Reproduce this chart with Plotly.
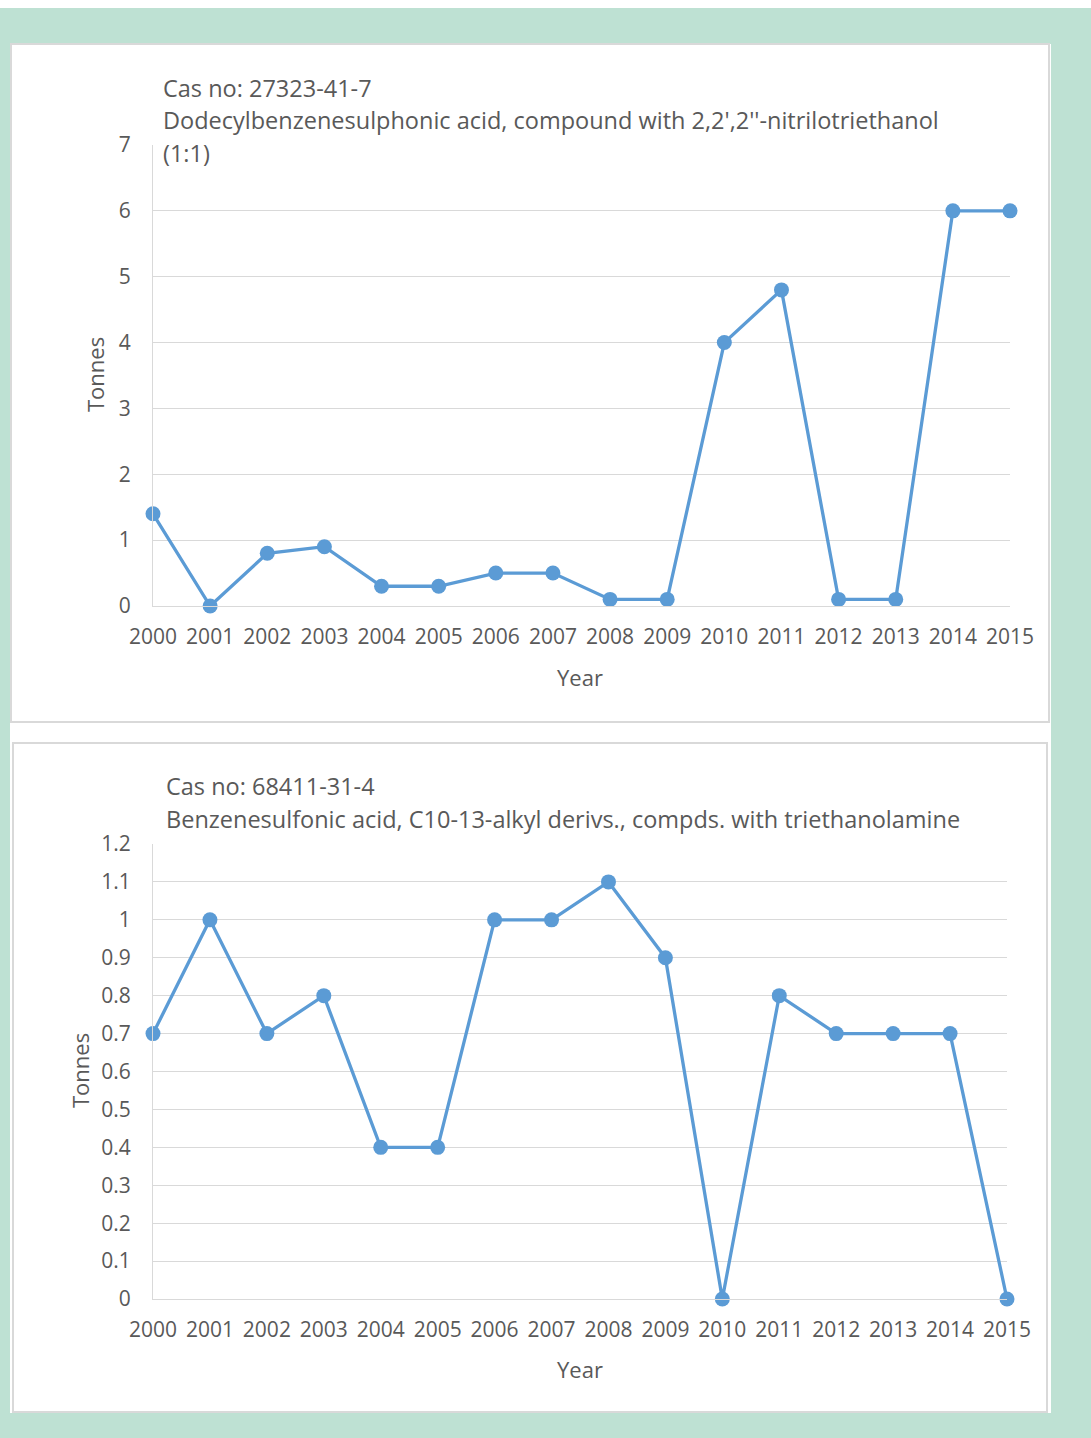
import plotly.graph_objects as go

W, H = 1091, 1438

years = list(range(2000, 2016))
tonnes_27323 = [1.4, 0.0, 0.8, 0.9, 0.3, 0.3, 0.5, 0.5, 0.1, 0.1, 4.0, 4.8, 0.1, 0.1, 6.0, 6.0]
tonnes_68411 = [0.7, 1.0, 0.7, 0.8, 0.4, 0.4, 1.0, 1.0, 1.1, 0.9, 0.0, 0.8, 0.7, 0.7, 0.7, 0.0]

title_1 = ["Cas no: 27323-41-7",
           "Dodecylbenzenesulphonic acid, compound with 2,2',2''-nitrilotriethanol",
           "(1:1)"]
title_2 = ["Cas no: 68411-31-4",
           "Benzenesulfonic acid, C10-13-alkyl derivs., compds. with triethanolamine"]

LINE = "#5b9bd5"
TEXT = "#595959"
GRID = "#d9d9d9"
TEAL = "#bee1d3"
FONT = "Open Sans"


def px_x(x):
    return x / W


def px_y(y):
    return 1 - y / H


fig = go.Figure()

for ys, xa, ya in [(tonnes_27323, "x", "y"), (tonnes_68411, "x2", "y2")]:
    fig.add_trace(go.Scatter(x=years, y=ys, mode="lines+markers",
                             line=dict(color=LINE, width=3.3),
                             marker=dict(color=LINE, size=15),
                             cliponaxis=False, xaxis=xa, yaxis=ya))

tick_font = dict(family=FONT, size=21, color=TEXT)
base = dict(showline=True, linecolor=GRID, linewidth=1, zeroline=False,
            fixedrange=True, automargin=False, tickfont=tick_font,
            ticks="outside", tickcolor="rgba(0,0,0,0)")
x_axis = dict(base, showgrid=False, range=[2000, 2015], tickmode="array",
              tickvals=years, ticktext=[str(y) for y in years], ticklen=12)
y_axis = dict(base, showgrid=True, gridcolor=GRID, gridwidth=1, ticklen=17)

fig.update_layout(
    width=W, height=H,
    margin=dict(l=0, r=0, t=0, b=0, pad=0, autoexpand=False),
    paper_bgcolor=TEAL, plot_bgcolor="rgba(0,0,0,0)",
    showlegend=False,
    font=dict(family=FONT, color=TEXT),
    xaxis=dict(x_axis, domain=[px_x(153), px_x(1010)], anchor="y"),
    yaxis=dict(y_axis, domain=[px_y(606), px_y(145)], range=[0, 7], dtick=1, anchor="x"),
    xaxis2=dict(x_axis, domain=[px_x(153), px_x(1007)], anchor="y2"),
    yaxis2=dict(y_axis, domain=[px_y(1299), px_y(844)], range=[0, 1.2], dtick=0.1, anchor="x2"),
)

shapes = [
    # white strip along the top edge
    dict(type="rect", xref="paper", yref="paper", x0=0, x1=1, y0=px_y(8), y1=1,
         fillcolor="white", line=dict(width=0), layer="below"),
    # white sheet behind both panels
    dict(type="rect", xref="paper", yref="paper", x0=px_x(10), x1=px_x(1051),
         y0=px_y(1413), y1=px_y(44), fillcolor="white", line=dict(width=0), layer="below"),
    # panel frames
    dict(type="rect", xref="paper", yref="paper", x0=px_x(11), x1=px_x(1049),
         y0=px_y(722), y1=px_y(44), fillcolor="white", line=dict(color=GRID, width=2), layer="below"),
    dict(type="rect", xref="paper", yref="paper", x0=px_x(13), x1=px_x(1047),
         y0=px_y(1412), y1=px_y(743), fillcolor="white", line=dict(color=GRID, width=2), layer="below"),
]
fig.update_layout(shapes=shapes)

title_font = dict(family=FONT, size=23.5, color=TEXT)
label_font = dict(family=FONT, size=22, color=TEXT)

annotations = []
for i, line in enumerate(title_1):
    annotations.append(dict(text=line, x=px_x(161), y=px_y(88 + 32.5 * i), xref="paper", yref="paper",
                            xanchor="left", yanchor="middle", showarrow=False, font=title_font))
for i, line in enumerate(title_2):
    annotations.append(dict(text=line, x=px_x(164), y=px_y(786 + 32.5 * i), xref="paper", yref="paper",
                            xanchor="left", yanchor="middle", showarrow=False, font=title_font))

for (tx, ty) in [(95, 375), (80, 1071)]:
    annotations.append(dict(text="Tonnes", x=px_x(tx), y=px_y(ty), xref="paper", yref="paper",
                            xanchor="center", yanchor="middle", textangle=-90, showarrow=False,
                            font=label_font))
for (tx, ty) in [(580, 677), (580, 1369)]:
    annotations.append(dict(text="Year", x=px_x(tx), y=px_y(ty), xref="paper", yref="paper",
                            xanchor="center", yanchor="middle", showarrow=False,
                            font=label_font))
fig.update_layout(annotations=annotations)

fig.write_html("out.html")
